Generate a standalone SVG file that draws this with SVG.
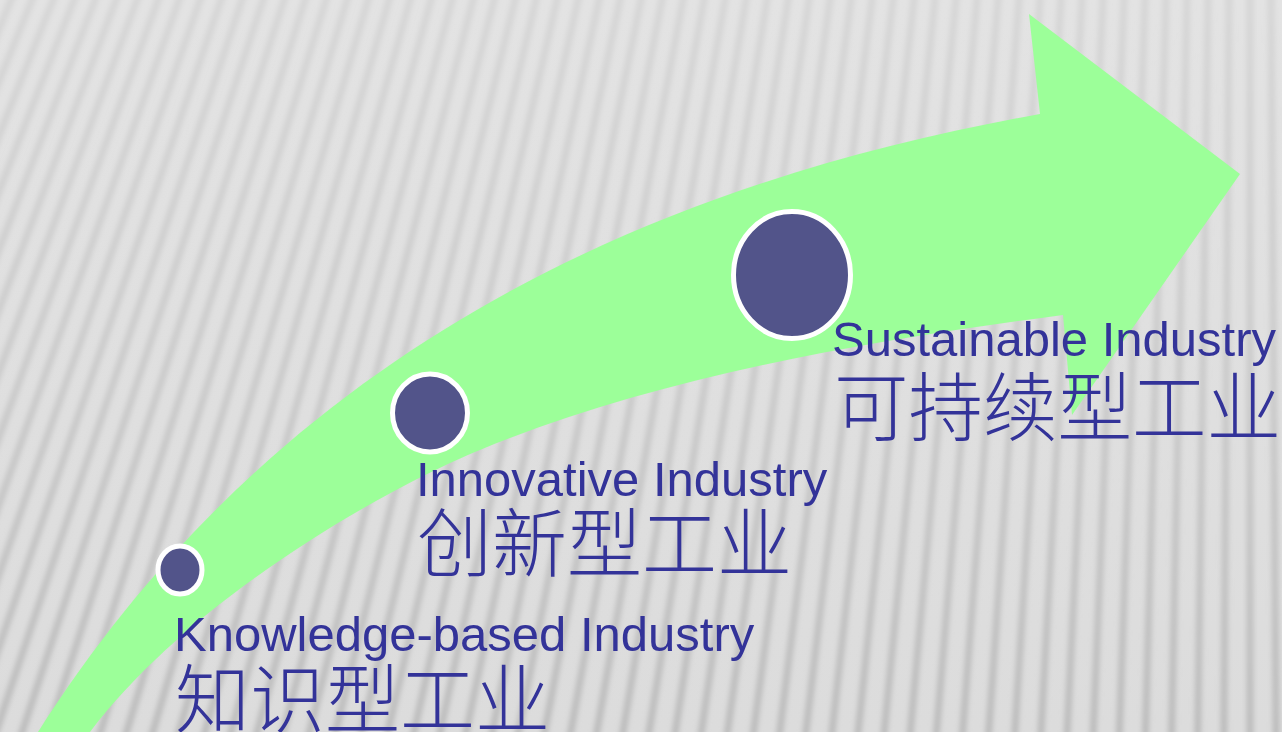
<svg xmlns="http://www.w3.org/2000/svg" width="1282" height="732" viewBox="0 0 1282 732">
<defs>
  <linearGradient id="bg" x1="0" y1="0" x2="0" y2="732" gradientUnits="userSpaceOnUse">
    <stop offset="0" stop-color="#e3e3e3"/>
    <stop offset="1" stop-color="#dcdcdc"/>
  </linearGradient>
  <linearGradient id="sg" x1="0" y1="0" x2="0" y2="732" gradientUnits="userSpaceOnUse">
    <stop offset="0" stop-color="#d6d6d6"/>
    <stop offset="0.5" stop-color="#cbcbcb"/>
    <stop offset="1" stop-color="#bcbcbc"/>
  </linearGradient>
  <filter id="soft" filterUnits="userSpaceOnUse" x="-20" y="-20" width="1322" height="772">
    <feGaussianBlur stdDeviation="2.6"/>
  </filter>
  <style>
    .stripe { stroke: url(#sg); stroke-width: 7; fill: none; }
    .dot { fill: #52548a; stroke: #ffffff; stroke-width: 5; }
    .en { font-family: "Liberation Sans", Arial, sans-serif; font-size: 49px; fill: #333399; }
    .zh { font-family: "Noto Sans CJK SC", "Noto Sans CJK TC", sans-serif; font-size: 75px; font-weight: 300; fill: #333399; }
  </style>
</defs>
<g id="background">
  <rect x="0" y="0" width="1282" height="732" fill="url(#bg)"/>
  <g filter="url(#soft)">
    <line class="stripe" x1="1250" y1="-3000" x2="1302.6" y2="760"/>
    <line class="stripe" x1="1250" y1="-3000" x2="1276.3" y2="760"/>
    <line class="stripe" x1="1250" y1="-3000" x2="1250" y2="760"/>
    <line class="stripe" x1="1250" y1="-3000" x2="1223.7" y2="760"/>
    <line class="stripe" x1="1250" y1="-3000" x2="1197.4" y2="760"/>
    <line class="stripe" x1="1250" y1="-3000" x2="1171.0" y2="760"/>
    <line class="stripe" x1="1250" y1="-3000" x2="1144.7" y2="760"/>
    <line class="stripe" x1="1250" y1="-3000" x2="1118.4" y2="760"/>
    <line class="stripe" x1="1250" y1="-3000" x2="1092.1" y2="760"/>
    <line class="stripe" x1="1250" y1="-3000" x2="1065.8" y2="760"/>
    <line class="stripe" x1="1250" y1="-3000" x2="1039.4" y2="760"/>
    <line class="stripe" x1="1250" y1="-3000" x2="1013.1" y2="760"/>
    <line class="stripe" x1="1250" y1="-3000" x2="986.8" y2="760"/>
    <line class="stripe" x1="1250" y1="-3000" x2="960.5" y2="760"/>
    <line class="stripe" x1="1250" y1="-3000" x2="934.2" y2="760"/>
    <line class="stripe" x1="1250" y1="-3000" x2="907.8" y2="760"/>
    <line class="stripe" x1="1250" y1="-3000" x2="881.5" y2="760"/>
    <line class="stripe" x1="1250" y1="-3000" x2="855.2" y2="760"/>
    <line class="stripe" x1="1250" y1="-3000" x2="828.9" y2="760"/>
    <line class="stripe" x1="1250" y1="-3000" x2="802.6" y2="760"/>
    <line class="stripe" x1="1250" y1="-3000" x2="776.2" y2="760"/>
    <line class="stripe" x1="1250" y1="-3000" x2="749.9" y2="760"/>
    <line class="stripe" x1="1250" y1="-3000" x2="723.6" y2="760"/>
    <line class="stripe" x1="1250" y1="-3000" x2="697.3" y2="760"/>
    <line class="stripe" x1="1250" y1="-3000" x2="671.0" y2="760"/>
    <line class="stripe" x1="1250" y1="-3000" x2="644.6" y2="760"/>
    <line class="stripe" x1="1250" y1="-3000" x2="618.3" y2="760"/>
    <line class="stripe" x1="1250" y1="-3000" x2="592.0" y2="760"/>
    <line class="stripe" x1="1250" y1="-3000" x2="565.7" y2="760"/>
    <line class="stripe" x1="1250" y1="-3000" x2="539.4" y2="760"/>
    <line class="stripe" x1="1250" y1="-3000" x2="513.0" y2="760"/>
    <line class="stripe" x1="1250" y1="-3000" x2="486.7" y2="760"/>
    <line class="stripe" x1="1250" y1="-3000" x2="460.4" y2="760"/>
    <line class="stripe" x1="1250" y1="-3000" x2="434.1" y2="760"/>
    <line class="stripe" x1="1250" y1="-3000" x2="407.8" y2="760"/>
    <line class="stripe" x1="1250" y1="-3000" x2="381.4" y2="760"/>
    <line class="stripe" x1="1250" y1="-3000" x2="355.1" y2="760"/>
    <line class="stripe" x1="1250" y1="-3000" x2="328.8" y2="760"/>
    <line class="stripe" x1="1250" y1="-3000" x2="302.5" y2="760"/>
    <line class="stripe" x1="1250" y1="-3000" x2="276.2" y2="760"/>
    <line class="stripe" x1="1250" y1="-3000" x2="249.8" y2="760"/>
    <line class="stripe" x1="1250" y1="-3000" x2="223.5" y2="760"/>
    <line class="stripe" x1="1250" y1="-3000" x2="197.2" y2="760"/>
    <line class="stripe" x1="1250" y1="-3000" x2="170.9" y2="760"/>
    <line class="stripe" x1="1250" y1="-3000" x2="144.6" y2="760"/>
    <line class="stripe" x1="1250" y1="-3000" x2="118.2" y2="760"/>
    <line class="stripe" x1="1250" y1="-3000" x2="91.9" y2="760"/>
    <line class="stripe" x1="1250" y1="-3000" x2="65.6" y2="760"/>
    <line class="stripe" x1="1250" y1="-3000" x2="39.3" y2="760"/>
    <line class="stripe" x1="1250" y1="-3000" x2="13.0" y2="760"/>
    <line class="stripe" x1="1250" y1="-3000" x2="-13.4" y2="760"/>
    <line class="stripe" x1="1250" y1="-3000" x2="-39.7" y2="760"/>
    <line class="stripe" x1="1250" y1="-3000" x2="-66.0" y2="760"/>
    <line class="stripe" x1="1250" y1="-3000" x2="-92.3" y2="760"/>
    <line class="stripe" x1="1250" y1="-3000" x2="-118.6" y2="760"/>
    <line class="stripe" x1="1250" y1="-3000" x2="-145.0" y2="760"/>
    <line class="stripe" x1="1250" y1="-3000" x2="-171.3" y2="760"/>
    <line class="stripe" x1="1250" y1="-3000" x2="-197.6" y2="760"/>
    <line class="stripe" x1="1250" y1="-3000" x2="-223.9" y2="760"/>
    <line class="stripe" x1="1250" y1="-3000" x2="-250.2" y2="760"/>
    <line class="stripe" x1="1250" y1="-3000" x2="-276.6" y2="760"/>
    <line class="stripe" x1="1250" y1="-3000" x2="-302.9" y2="760"/>
    <line class="stripe" x1="1250" y1="-3000" x2="-329.2" y2="760"/>
    <line class="stripe" x1="1250" y1="-3000" x2="-355.5" y2="760"/>
  </g>
</g>
<g id="connectors">
  <path id="arrow" fill="#9cff99" d="M 38,732 C 300,320 700,175 1040,114 L 1029,14 L 1240,174 L 1072,415 L 1063,315 C 850,343 650,380 480,450 C 380,491 190,600 90,732 L 80,745 L 30,745 Z"/>
</g>
<g id="node-knowledge">
  <ellipse class="dot" cx="180" cy="570" rx="22" ry="24"/>
  <text class="en" x="174" y="651">Knowledge-based Industry</text>
  <text class="zh" x="175" y="727">知识型工业</text>
</g>
<g id="node-innovative">
  <ellipse class="dot" cx="430" cy="413" rx="37.5" ry="39"/>
  <text class="en" x="416" y="496">Innovative Industry</text>
  <text class="zh" x="417" y="571">创新型工业</text>
</g>
<g id="node-sustainable">
  <ellipse class="dot" cx="792" cy="275" rx="58.5" ry="63.5"/>
  <text class="en" x="832" y="356">Sustainable Industry</text>
  <text class="zh" x="834" y="435" style="font-size:74.5px">可持续型工业</text>
</g>
</svg>
